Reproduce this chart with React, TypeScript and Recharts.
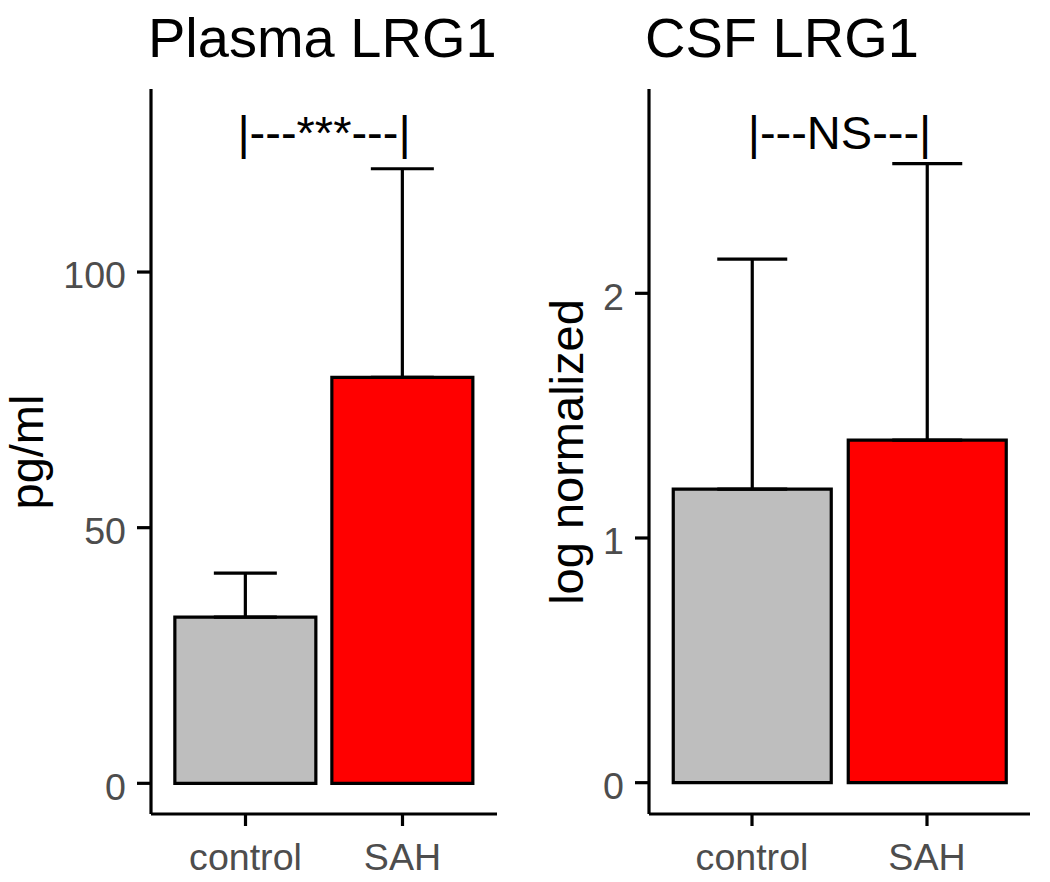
import React from 'react';
import { BarChart, Bar, XAxis, YAxis, ErrorBar, Cell, ReferenceLine } from 'recharts';

const groups = ['control', 'SAH'];
const barColors = ['#BEBEBE', '#FF0000'];

// plasma LRG1 (pg/ml), mean and upper error
const plasmaMean = [32.5, 79.4];
const plasmaErr = [8.6, 40.8];
const plasmaTicks = [0, 50, 100];

// CSF LRG1 (log normalized)
const csfMean = [1.2, 1.4];
const csfErr = [0.94, 1.13];
const csfTicks = [0, 1, 2];

const plasmaSig = '|---***---|';
const csfSig = '|---NS---|';

const FONT = '"Liberation Sans", Arial, sans-serif';
const TICK_GREY = '#4D4D4D';
const LW = 3.2;

const toRows = (means: number[], errs: number[]) =>
  groups.map((g, i) => ({ group: g, mean: means[i], err: [0, errs[i]] }));

interface PanelProps {
  left: number;
  width: number;
  axisWidth: number;
  marginRight: number;
  pad: number;
  domain: [number, number];
  ticks: number[];
  rows: { group: string; mean: number; err: number[] }[];
  capWidth: number;
  sig: string;
  sigY: number;
}

const Panel: React.FC<PanelProps> = (p) => (
  <div style={{ position: 'absolute', left: p.left, top: 0 }}>
    <BarChart
      width={p.width}
      height={882}
      data={p.rows}
      margin={{ top: 89, right: p.marginRight, bottom: 0, left: 0 }}
      barCategoryGap="5%"
    >
      <XAxis
        dataKey="group"
        height={68}
        padding={{ left: p.pad, right: p.pad }}
        axisLine={{ stroke: '#000', strokeWidth: LW }}
        tickLine={{ stroke: '#000', strokeWidth: LW }}
        tickSize={12}
        tickMargin={17}
        tick={{ fill: TICK_GREY, fontSize: 37.6, fontFamily: FONT }}
      />
      <YAxis
        type="number"
        width={p.axisWidth}
        domain={p.domain}
        allowDataOverflow
        ticks={p.ticks}
        interval={0}
        axisLine={{ stroke: '#000', strokeWidth: LW }}
        tickLine={{ stroke: '#000', strokeWidth: LW }}
        tickSize={14}
        tickMargin={11}
        tick={{ fill: TICK_GREY, fontSize: 37.6, fontFamily: FONT, dy: 3 }}
      />
      <ReferenceLine
        y={p.sigY}
        stroke="none"
        label={{ value: p.sig, position: 'center', fill: '#000', fontSize: 47, fontFamily: FONT }}
      />
      <Bar dataKey="mean" stroke="#000" strokeWidth={LW} isAnimationActive={false}>
        {p.rows.map((r, i) => (
          <Cell key={r.group} fill={barColors[i]} stroke="#000" strokeWidth={LW} />
        ))}
        <ErrorBar dataKey="err" direction="y" width={p.capWidth} stroke="#000" strokeWidth={LW} isAnimationActive={false} />
      </Bar>
    </BarChart>
  </div>
);

export default function App() {
  return (
    <div style={{ position: 'absolute', left: 0, top: 0, width: 1050, height: 882, background: '#fff' }}>
      <Panel
        left={0}
        width={520}
        axisWidth={151}
        marginRight={23}
        pad={16}
        domain={[-6.0, 135.8]}
        ticks={plasmaTicks}
        rows={toRows(plasmaMean, plasmaErr)}
        capWidth={31.5}
        sig={plasmaSig}
        sigY={127.3}
      />
      <Panel
        left={520}
        width={530}
        axisWidth={129}
        marginRight={20}
        pad={15.5}
        domain={[-0.128, 2.835]}
        ticks={csfTicks}
        rows={toRows(csfMean, csfErr)}
        capWidth={35}
        sig={csfSig}
        sigY={2.658}
      />
      <svg width={1050} height={882} style={{ position: 'absolute', left: 0, top: 0, pointerEvents: 'none' }}>
        <text x={148} y={57} fontSize={56} fontFamily={FONT} fill="#000">Plasma LRG1</text>
        <text x={645} y={57} fontSize={56} fontFamily={FONT} fill="#000">CSF LRG1</text>
        <text x={43} y={452} transform="rotate(-90 43 452)" textAnchor="middle" fontSize={47} fontFamily={FONT} fill="#000">pg/ml</text>
        <text x={583} y={452} transform="rotate(-90 583 452)" textAnchor="middle" fontSize={47} fontFamily={FONT} fill="#000">log normalized</text>
      </svg>
    </div>
  );
}
